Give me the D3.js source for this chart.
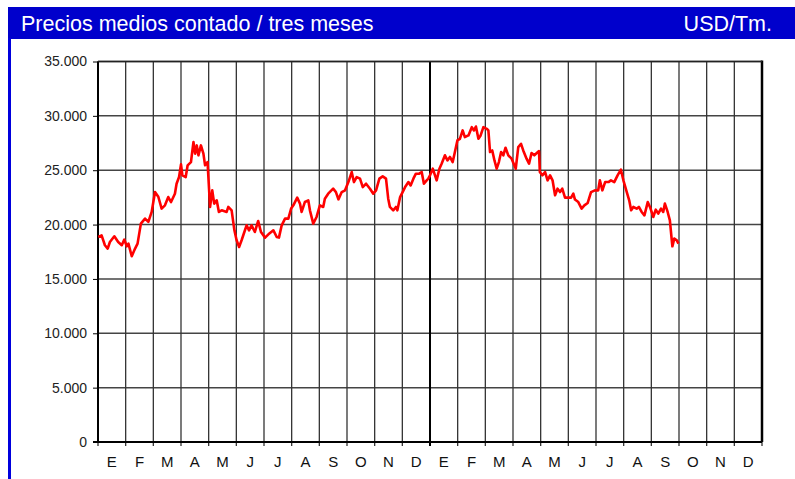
<!DOCTYPE html>
<html>
<head>
<meta charset="utf-8">
<script src="https://d3js.org/d3.v7.min.js"></script>
<style>
    body { margin: 0; background: #fff; }
    svg { display: block; font-family: "Liberation Sans", Arial, sans-serif; }
</style>
</head>
<body>
<svg id="chart" width="795" height="479"></svg>
<script>
// two years of months, spanish initials
const monthLabels = ["E", "F", "M", "A", "M", "J", "J", "A", "S", "O", "N", "D",
    "E", "F", "M", "A", "M", "J", "J", "A", "S", "O", "N", "D"];
const yTicks = [0, 5000, 10000, 15000, 20000, 25000, 30000, 35000];

// months elapsed since the start of the first January
const priceMonths = [
    0.01, 0.13, 0.25, 0.35, 0.43, 0.59, 0.73, 0.86, 0.95, 1.04, 1.10, 1.22, 1.34, 1.43, 1.55, 1.70,
    1.82, 1.94, 2.06, 2.18, 2.30, 2.42, 2.54, 2.64, 2.78, 2.84, 2.93, 3.00, 3.05, 3.17, 3.24, 3.36,
    3.45, 3.51, 3.57, 3.63, 3.72, 3.81, 3.87, 3.96, 4.05, 4.13, 4.20, 4.29, 4.37, 4.47, 4.65, 4.71,
    4.83, 4.93, 5.01, 5.10, 5.19, 5.29, 5.37, 5.46, 5.55, 5.67, 5.79, 5.89, 6.04, 6.16, 6.34, 6.46,
    6.54, 6.64, 6.76, 6.88, 6.98, 7.06, 7.20, 7.30, 7.36, 7.48, 7.60, 7.66, 7.78, 7.90, 8.02, 8.14,
    8.20, 8.32, 8.50, 8.60, 8.69, 8.81, 8.93, 9.05, 9.17, 9.25, 9.35, 9.47, 9.57, 9.69, 9.83, 9.95,
    10.05, 10.17, 10.29, 10.41, 10.49, 10.55, 10.67, 10.77, 10.82, 10.92, 11.10, 11.22, 11.30, 11.40,
    11.49, 11.61, 11.70, 11.78, 11.88, 11.94, 12.00, 12.10, 12.24, 12.34, 12.42, 12.54, 12.63, 12.72,
    12.82, 12.90, 12.99, 13.08, 13.18, 13.26, 13.39, 13.51, 13.59, 13.66, 13.75, 13.83, 13.93, 14.05,
    14.11, 14.17, 14.25, 14.33, 14.41, 14.49, 14.57, 14.65, 14.73, 14.83, 14.95, 15.10, 15.19, 15.29,
    15.37, 15.49, 15.58, 15.67, 15.77, 15.86, 15.94, 15.97, 16.06, 16.16, 16.25, 16.34, 16.43, 16.52,
    16.61, 16.70, 16.78, 16.88, 17.00, 17.10, 17.18, 17.24, 17.36, 17.48, 17.58, 17.70, 17.82, 17.96,
    18.08, 18.14, 18.23, 18.33, 18.45, 18.54, 18.66, 18.78, 18.90, 18.99, 19.11, 19.20, 19.27, 19.35,
    19.47, 19.55, 19.65, 19.75, 19.87, 19.95, 20.07, 20.16, 20.25, 20.35, 20.43, 20.49, 20.59, 20.67,
    20.76, 20.83, 20.92, 20.98
];
// USD/Tm
const priceValues = [
    18860, 19000, 18100, 17790, 18400, 18920, 18400, 18100, 18620, 18000, 18250, 17090, 17790, 18250, 20090, 20550,
    20250, 21160, 22990, 22560, 21470, 21770, 22530, 22070, 22840, 23760, 24370, 25540, 24530, 24370, 25450, 25750,
    27590, 26520, 27280, 26370, 27280, 26520, 25450, 25750, 21620, 23150, 21930, 22230, 21160, 21310, 21160, 21620,
    21310, 19470, 18560, 17940, 18560, 19320, 19930, 19470, 19930, 19320, 20330, 19320, 18800, 19100, 19470, 18860,
    18800, 19930, 20550, 20550, 21470, 21770, 22480, 21930, 21160, 22080, 22230, 21310, 20090, 20700, 21770, 21620,
    22380, 22840, 23300, 22990, 22320, 22990, 23150, 23910, 24830, 23910, 24370, 24220, 23450, 23760, 23300, 22840,
    23150, 24220, 24430, 24220, 22380, 21620, 21310, 21620, 21310, 22530, 23450, 23910, 23600, 24220,
    24680, 24680, 24830, 23760, 24070, 24220, 24530, 25140, 24070, 25140, 25600, 26370, 25900, 26220,
    25750, 26670, 27740, 27890, 28660, 28050, 28200, 28960, 28660, 29020, 27890, 28200, 28960, 28810,
    28660, 26670, 26820, 25900, 25140, 25750, 26670, 26370, 27070, 26370, 26060, 25140, 27130, 27430,
    26820, 26060, 25600, 26580, 26370, 26580, 26760, 24830, 24530, 24830, 24070, 24530, 24070, 22690,
    23300, 22990, 23300, 22480, 22480, 22480, 22840, 22300, 22070, 21470, 21770, 21990, 22990, 23150,
    23150, 24070, 23150, 23910, 23910, 24070, 23910, 24530, 25050, 24070, 23000, 22230, 21310, 21620,
    21470, 21620, 21160, 20850, 22070, 21620, 20700, 21370, 21010, 21470, 21160, 21930, 21160, 20390,
    18000, 18710, 18550, 18250
];

const esLocale = d3.formatLocale({decimal: ",", thousands: ".", grouping: [3], currency: ["", "$"]});
const fmt = esLocale.format(",d");

function draw() {
    let svg = d3.select("#chart");

    // blue frame: header band and left edge
    svg.append("rect")
        .attr("x", 8).attr("y", 7).attr("width", 800).attr("height", 32)
        .attr("fill", "#0000cc");
    svg.append("rect")
        .attr("x", 8).attr("y", 38).attr("width", 3).attr("height", 445)
        .attr("fill", "#0000dd");

    svg.append("text")
        .attr("x", 21).attr("y", 31)
        .attr("fill", "#fff")
        .style("font-size", "21.5px")
        .text("Precios medios contado / tres meses");
    svg.append("text")
        .attr("x", 772).attr("y", 31)
        .attr("fill", "#fff")
        .attr("text-anchor", "end")
        .style("font-size", "21.5px")
        .text("USD/Tm.");

    let x = d3.scaleLinear().domain([0, 24]).range([98, 762]);
    let y = d3.scaleLinear().domain([0, 35000]).range([442, 61.5]);

    let g = svg.append("g");

    // horizontal grid
    g.selectAll("line.hgrid").data(yTicks)
        .enter().append("line")
        .attr("class", "hgrid")
        .attr("x1", x(0)).attr("x2", x(24))
        .attr("y1", d => y(d)).attr("y2", d => y(d))
        .attr("stroke", "#444").attr("stroke-width", 1.5);

    // month boundaries
    let bounds = d3.range(0, 25);
    g.selectAll("line.vgrid").data(bounds)
        .enter().append("line")
        .attr("class", "vgrid")
        .attr("x1", d => x(d)).attr("x2", d => x(d))
        .attr("y1", y(35000)).attr("y2", y(0) + 4)
        .attr("stroke", d => d === 12 ? "#000" : "#333")
        .attr("stroke-width", d => d === 12 ? 2 : 1.3);

    // y axis ticks and labels
    let yAxis = d3.axisLeft(y).tickValues(yTicks).tickFormat(d => d === 0 ? "0" : fmt(d))
        .tickSize(5).tickPadding(6);
    let ya = svg.append("g").attr("transform", `translate(${x(0)},0)`).call(yAxis);
    ya.select(".domain").remove();
    ya.selectAll("line").attr("stroke", "#000");
    ya.selectAll("text")
        .attr("fill", "#222")
        .style("font-size", "14px")
        .style("font-family", "'Liberation Sans', Arial, sans-serif");

    // frame
    g.append("line")
        .attr("x1", x(0)).attr("x2", x(0)).attr("y1", y(35000)).attr("y2", y(0))
        .attr("stroke", "#000").attr("stroke-width", 2);
    g.append("line")
        .attr("x1", x(24)).attr("x2", x(24)).attr("y1", y(35000) - 1).attr("y2", y(0))
        .attr("stroke", "#000").attr("stroke-width", 2.5);
    g.append("line")
        .attr("x1", x(0) - 5).attr("x2", x(24)).attr("y1", y(0)).attr("y2", y(0))
        .attr("stroke", "#000").attr("stroke-width", 2);
    g.append("line")
        .attr("x1", x(0)).attr("x2", x(24)).attr("y1", y(35000)).attr("y2", y(35000))
        .attr("stroke", "#222").attr("stroke-width", 1.5);

    // month initials centred in each month
    svg.selectAll("text.month").data(monthLabels)
        .enter().append("text")
        .attr("class", "month")
        .attr("x", (d, i) => x(i + 0.5))
        .attr("y", 467)
        .attr("text-anchor", "middle")
        .attr("fill", "#111")
        .style("font-size", "15px")
        .text(d => d);

    let points = priceMonths.map((m, i) => [m, priceValues[i]]);
    let line = d3.line()
        .x(d => x(d[0]))
        .y(d => y(d[1]));

    svg.append("path")
        .datum(points)
        .attr("d", line)
        .attr("fill", "none")
        .attr("stroke", "#ff0000")
        .attr("stroke-width", 2.6)
        .attr("stroke-linejoin", "round");
}

draw();
</script>
</body>
</html>
